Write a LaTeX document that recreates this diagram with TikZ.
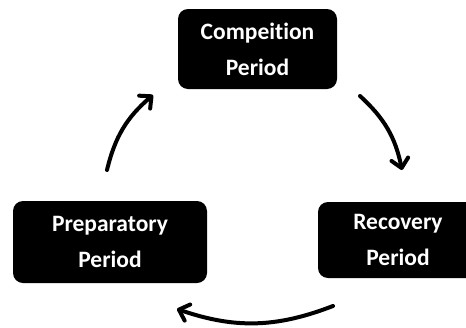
\documentclass[tikz,border=0pt]{standalone}
\usepackage{fontspec}
\setmainfont[Ligatures={NoCommon,NoRare}]{Carlito}
\usetikzlibrary{arrows.meta}

\tikzset{
  period/.style={rectangle, rounded corners=10pt, fill=black, text=white,
    align=center, inner sep=0pt,
    font=\bfseries\fontsize{23.5}{36}\selectfont},
  cycle/.style={line width=4pt, line cap=round,
    -{Straight Barb[length=9pt,width=17pt,round]}}
}

\begin{document}
\begin{tikzpicture}[x=1pt, y=-1pt]
        \useasboundingbox (0,0) rectangle (466,327);
        \clip (0,0) rectangle (466,327);

        % Nodes
        \node (comp) [period, minimum width=159pt, minimum height=80pt] at (257.5,49) {Compeition\\Period};
        \node (prep) [period, minimum width=194pt, minimum height=82pt] at (110,242) {Preparatory\\Period};
        \node (reco) [period, minimum width=160pt, minimum height=76pt] at (398,240) {Recovery\\Period};

        % Arrow ends
        \coordinate (prepOut) at (107,170);
        \coordinate (compIn) at (153,95);
        \coordinate (compOut) at (360,96);
        \coordinate (recoIn) at (402,170);
        \coordinate (recoOut) at (333,306);
        \coordinate (prepIn) at (177,309);

        % Edges
        \draw[cycle] (prepOut) to[bend left=18] (compIn);
        \draw[cycle] (compOut) to[bend left=18] (recoIn);
        \draw[cycle] (recoOut) to[bend left=20] (prepIn);
\end{tikzpicture}
\end{document}
